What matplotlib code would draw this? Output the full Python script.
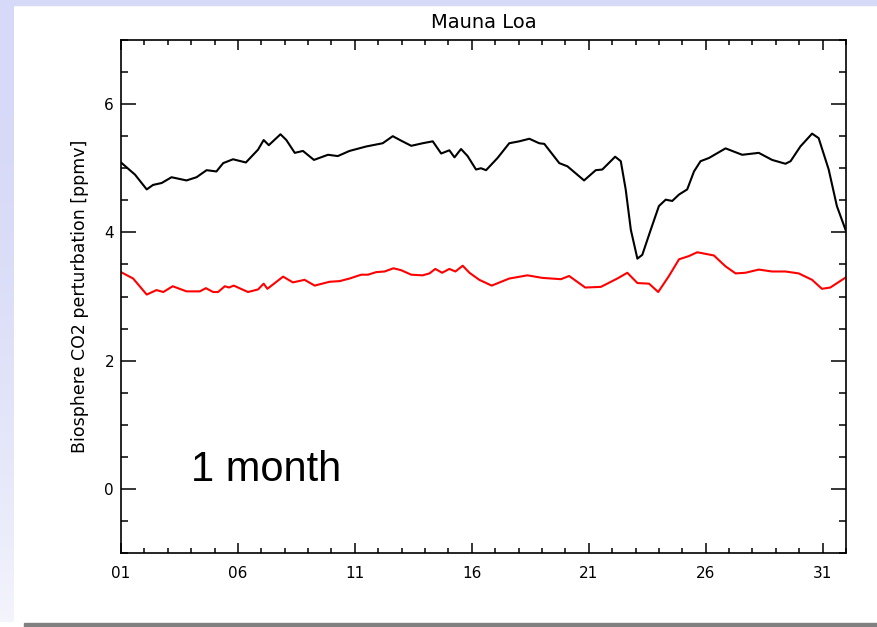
import numpy as np
import matplotlib
matplotlib.use("Agg")
import matplotlib.pyplot as plt
from matplotlib.ticker import MultipleLocator, FixedLocator

# black curve (day of month, ppmv)
black_day = [1.00, 1.60, 2.10, 2.37, 2.74, 3.16, 3.80, 4.23, 4.66, 5.08, 5.37, 5.79,
             6.34, 6.86, 7.10, 7.32, 7.82, 8.07, 8.43, 8.78, 9.25, 9.85, 10.27, 10.77,
             11.49, 12.19, 12.62, 12.98, 13.41, 13.90, 14.33, 14.69, 15.04, 15.26, 15.54,
             15.82, 16.18, 16.39, 16.61, 17.10, 17.60, 18.03, 18.46, 18.88, 19.10, 19.74,
             20.09, 20.80, 21.30, 21.58, 22.13, 22.37, 22.58, 22.80, 23.08, 23.29, 23.65,
             24.00, 24.29, 24.57, 24.86, 25.21, 25.50, 25.78, 26.14, 26.85, 27.56, 28.27,
             28.84, 29.41, 29.63, 30.05, 30.55, 30.83, 31.26, 31.61, 32.00]
black_val = [5.09, 4.90, 4.67, 4.74, 4.77, 4.86, 4.81, 4.86, 4.97, 4.95, 5.08, 5.14,
             5.09, 5.29, 5.44, 5.36, 5.53, 5.44, 5.24, 5.27, 5.13, 5.21, 5.19, 5.27,
             5.34, 5.39, 5.50, 5.43, 5.35, 5.39, 5.42, 5.23, 5.28, 5.17, 5.30,
             5.19, 4.98, 5.00, 4.97, 5.16, 5.39, 5.42, 5.46, 5.39, 5.38, 5.08,
             5.03, 4.81, 4.97, 4.98, 5.18, 5.11, 4.67, 4.04, 3.59, 3.65, 4.04,
             4.41, 4.51, 4.49, 4.59, 4.67, 4.95, 5.11, 5.16, 5.31, 5.21, 5.24,
             5.13, 5.07, 5.11, 5.34, 5.54, 5.47, 4.98, 4.41, 4.02]

# red curve
red_day = [1.00, 1.52, 2.10, 2.52, 2.81, 3.21, 3.80, 4.37, 4.63, 4.94, 5.15, 5.44,
           5.62, 5.82, 6.43, 6.86, 7.10, 7.26, 7.93, 8.35, 8.85, 9.28, 9.92, 10.35,
           10.77, 11.27, 11.56, 11.91, 12.27, 12.65, 12.98, 13.41, 13.90, 14.19, 14.44,
           14.73, 15.04, 15.30, 15.61, 15.90, 16.32, 16.85, 17.60, 18.38, 19.02, 19.81,
           20.16, 20.85, 21.52, 22.22, 22.65, 23.08, 23.58, 23.97, 24.43, 24.86, 25.28,
           25.64, 26.35, 26.85, 27.28, 27.70, 28.27, 28.84, 29.41, 29.98, 30.55, 30.97,
           31.33, 32.00]
red_val = [3.38, 3.28, 3.03, 3.10, 3.07, 3.16, 3.08, 3.08, 3.13, 3.07, 3.07, 3.16,
           3.14, 3.17, 3.07, 3.11, 3.20, 3.12, 3.31, 3.22, 3.26, 3.17, 3.23, 3.24,
           3.28, 3.34, 3.34, 3.38, 3.39, 3.44, 3.41, 3.34, 3.33, 3.36, 3.43,
           3.37, 3.43, 3.39, 3.48, 3.37, 3.26, 3.17, 3.28, 3.33, 3.29, 3.27,
           3.32, 3.14, 3.15, 3.28, 3.37, 3.21, 3.20, 3.07, 3.32, 3.58, 3.63,
           3.69, 3.64, 3.47, 3.36, 3.37, 3.42, 3.39, 3.39, 3.36, 3.26, 3.12,
           3.14, 3.30]

day_ticks = [1, 6, 11, 16, 21, 26, 31]
day_labels = ["01", "06", "11", "16", "21", "26", "31"]

W, H = 877, 627
fig = plt.figure(figsize=(W / 100, H / 100), dpi=100)
fig.patch.set_facecolor("white")

# slide decoration: lavender strips and grey bar
strip = fig.add_axes([0, 5 / H, 14 / W, 1 - 5 / H])
top = np.array([214, 217, 247]) / 255
bot = np.array([243, 244, 252]) / 255
t = np.linspace(0, 1, 200)[:, None]
grad = (top * (1 - t**2) + bot * t**2)[:, None, :]
strip.imshow(grad, aspect="auto", extent=[0, 1, 0, 1])
strip.axis("off")
fig.patches.append(plt.Rectangle((0, 1 - 5 / H), 1, 5 / H, transform=fig.transFigure,
                                 color="#d6d9f7", zorder=0))
fig.patches.append(plt.Rectangle((24 / W, 0), 1, 4.5 / H, transform=fig.transFigure,
                                 color="#808080", zorder=0))

ax = fig.add_axes([121 / W, 1 - 553 / H, (846 - 121) / W, (553 - 40) / H])
ax.plot(black_day, black_val, color="black", lw=1.5, solid_joinstyle="round")
ax.plot(red_day, red_val, color="red", lw=1.5, solid_joinstyle="round")

ax.set_xlim(1, 32)
ax.set_ylim(-1, 7)
ax.xaxis.set_major_locator(FixedLocator(day_ticks))
ax.set_xticklabels(day_labels)
ax.xaxis.set_minor_locator(MultipleLocator(1))
ax.yaxis.set_major_locator(FixedLocator([0, 2, 4, 6]))
ax.yaxis.set_minor_locator(MultipleLocator(0.5))

for s in ax.spines.values():
    s.set_linewidth(1.2)
ax.tick_params(axis="x", which="major", direction="in", length=7.5, width=1.1,
               top=True, pad=9, labelsize=11)
ax.tick_params(axis="x", which="minor", direction="in", length=3.5, width=1.1, top=True)
ax.tick_params(axis="y", which="major", direction="in", length=11, width=1.1,
               right=True, pad=5, labelsize=11)
ax.tick_params(axis="y", which="minor", direction="in", length=5, width=1.1, right=True)

ax.set_title("Mauna Loa", fontsize=14, pad=9)
ax.set_ylabel("Biosphere CO2 perturbation [ppmv]", fontsize=12.5, labelpad=11)
ax.text(4.0, 0.12, "1 month", fontsize=30, family="Liberation Sans", va="baseline")

fig.savefig("out.png", dpi=100)
